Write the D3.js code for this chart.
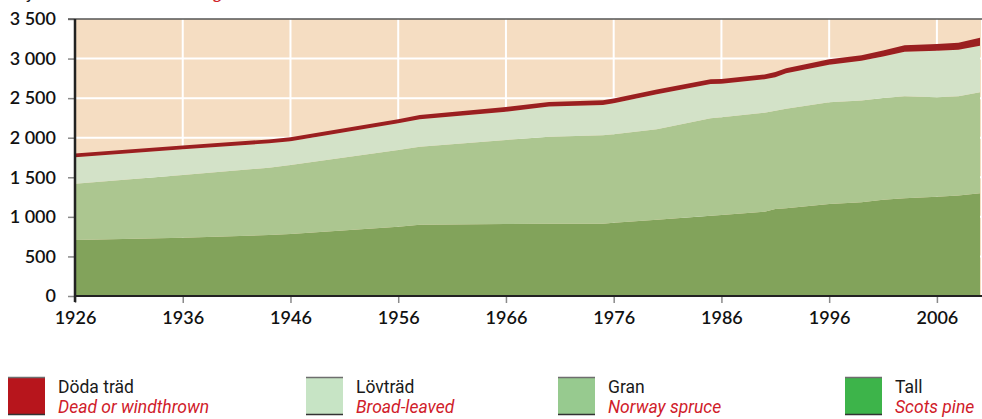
<!DOCTYPE html>
<html>
<head>
<meta charset="utf-8">
<script src="https://cdn.jsdelivr.net/npm/d3@7"></script>
<style>
  body { margin: 0; background: #fff; }
  svg { display: block; }
  .axis text { font-family: Lato, "Open Sans", sans-serif; font-size: 18px; fill: #111; }
  .legend text { font-family: Roboto, sans-serif; font-size: 17.5px; }
</style>
</head>
<body>
<div id="chart"></div>
<script>
// values in million m3
var years = [1926, 1936, 1944, 1946, 1956, 1958, 1966, 1970, 1975, 1976, 1980, 1985, 1986, 1990, 1991, 1992, 1996, 1999, 2001, 2003, 2006, 2008, 2010];
var tall  = [708, 737, 770, 783, 876, 901, 910, 912, 912, 925, 965, 1015, 1023, 1065, 1100, 1108, 1162, 1185, 1217, 1234, 1255, 1270, 1298];
var gran  = [711, 792, 850, 872, 969, 986, 1061, 1101, 1118, 1120, 1141, 1230, 1235, 1252, 1240, 1257, 1286, 1284, 1285, 1289, 1256, 1253, 1275];
var lov   = [333, 324, 309, 300, 337, 346, 358, 380, 383, 390, 442, 434, 425, 421, 425, 448, 475, 504, 523, 562, 589, 590, 590];
var dead  = [48, 48, 50, 50, 52, 55, 58, 58, 60, 60, 60, 60, 60, 62, 65, 65, 68, 70, 78, 82, 85, 88, 100];

var yTicks = [0, 500, 1000, 1500, 2000, 2500, 3000, 3500];
var xTicks = [1926, 1936, 1946, 1956, 1966, 1976, 1986, 1996, 2006];

var series = [
  {key: 'tall', sv: 'Tall', en: 'Scots pine', area: '#82a35b', swatch: '#3db44a'},
  {key: 'gran', sv: 'Gran', en: 'Norway spruce', area: '#acc690', swatch: '#97ca8f'},
  {key: 'lov',  sv: 'Lövträd', en: 'Broad-leaved', area: '#d3e2c8', swatch: '#c7e4c5'},
  {key: 'dead', sv: 'Döda träd', en: 'Dead or windthrown', area: '#9a1f20', swatch: '#b7151c'}
];

var table = years.map(function(y, i) {
  return {year: y, tall: tall[i], gran: gran[i], lov: lov[i], dead: dead[i]};
});

var svg = d3.select('#chart').append('svg')
  .attr('width', 982)
  .attr('height', 419);

var plot = {l: 75, r: 981, t: 19, b: 296};

var x = d3.scaleLinear().domain([1926, 2010]).range([plot.l, 980]);
var y = d3.scaleLinear().domain([0, 3500]).range([plot.b, plot.t]);

var locale = d3.formatLocale({decimal: ',', thousands: ' ', grouping: [3]});
var fmt = locale.format(',');

// heading above the crop, only descenders reach the picture
svg.append('text').attr('x', 2).attr('y', -1)
  .style('font-family', 'Lato, sans-serif').style('font-size', '18px').style('fill', '#1a1a1a')
  .text('Miljoner m³sk');
svg.append('text').attr('x', 160).attr('y', -1)
  .style('font-family', 'Lato, sans-serif').style('font-size', '18px').style('font-style', 'italic').style('fill', '#d0202a')
  .text('Growing stock');

// background and grid
svg.append('rect')
  .attr('x', plot.l).attr('y', plot.t)
  .attr('width', plot.r - plot.l).attr('height', plot.b - plot.t)
  .attr('fill', '#f5ddc2');

svg.append('g').selectAll('line.h')
  .data(yTicks.slice(1, -1))
  .enter().append('line')
  .attr('x1', plot.l).attr('x2', plot.r)
  .attr('y1', function(d) { return y(d); }).attr('y2', function(d) { return y(d); })
  .attr('stroke', '#fff').attr('stroke-width', 2);

svg.append('g').selectAll('line.v')
  .data(xTicks.slice(1))
  .enter().append('line')
  .attr('x1', function(d) { return x(d); }).attr('x2', function(d) { return x(d); })
  .attr('y1', plot.t).attr('y2', plot.b)
  .attr('stroke', '#fff').attr('stroke-width', 2);

// stacked areas
var stack = d3.stack().keys(series.map(function(s) { return s.key; }));
var layers = stack(table);

var area = d3.area()
  .x(function(d) { return x(d.data.year); })
  .y0(function(d) { return y(d[0]); })
  .y1(function(d) { return y(d[1]); });

svg.append('g').selectAll('path')
  .data(layers)
  .enter().append('path')
  .attr('d', area)
  .attr('fill', function(d, i) { return series[i].area; });

// axes
var yAxis = svg.append('g').attr('class', 'axis')
  .attr('transform', 'translate(' + plot.l + ',0)')
  .call(d3.axisLeft(y).tickValues(yTicks).tickSize(7).tickPadding(12).tickFormat(fmt));
yAxis.select('.domain').remove();
yAxis.selectAll('.tick line').attr('stroke', '#8a8a8a').attr('stroke-width', 1.5);
yAxis.selectAll('.tick text').style('font-weight', 600);

var xAxis = svg.append('g').attr('class', 'axis')
  .attr('transform', 'translate(0,' + plot.b + ')')
  .call(d3.axisBottom(x).tickValues(xTicks).tickSize(7).tickPadding(8).tickFormat(d3.format('d')));
xAxis.select('.domain').remove();
xAxis.selectAll('.tick line').attr('stroke', '#8a8a8a').attr('stroke-width', 1.5);
xAxis.selectAll('.tick text').style('font-weight', 600);

svg.append('line')
  .attr('x1', plot.l - 7).attr('x2', plot.r + 1)
  .attr('y1', plot.t).attr('y2', plot.t)
  .attr('stroke', '#555').attr('stroke-width', 1.5);
svg.append('line')
  .attr('x1', plot.l).attr('x2', plot.l)
  .attr('y1', plot.t).attr('y2', plot.b + 6)
  .attr('stroke', '#222').attr('stroke-width', 2.5);
svg.append('line')
  .attr('x1', plot.l).attr('x2', plot.r + 1)
  .attr('y1', plot.b).attr('y2', plot.b)
  .attr('stroke', '#222').attr('stroke-width', 2);

// legend
var legendX = [8, 306, 558, 845];
var legendOrder = ['dead', 'lov', 'gran', 'tall'];

var legend = svg.append('g').attr('class', 'legend')
  .selectAll('g')
  .data(legendOrder.map(function(k) { return series.find(function(s) { return s.key === k; }); }))
  .enter().append('g')
  .attr('transform', function(d, i) { return 'translate(' + legendX[i] + ',377)'; });

legend.append('rect')
  .attr('width', 37).attr('height', 38)
  .attr('fill', function(d) { return d.swatch; });
legend.append('line')
  .attr('x1', 0).attr('x2', 37).attr('y1', 0.5).attr('y2', 0.5)
  .attr('stroke', '#6e6e6e').attr('stroke-width', 1.5);
legend.append('line')
  .attr('x1', 0).attr('x2', 37).attr('y1', 37.5).attr('y2', 37.5)
  .attr('stroke', '#333').attr('stroke-width', 1.5);

legend.append('text')
  .attr('x', 50).attr('y', 16)
  .style('fill', '#1a1a1a')
  .text(function(d) { return d.sv; });
legend.append('text')
  .attr('x', 50).attr('y', 36)
  .style('fill', '#d0202a').style('font-style', 'italic')
  .text(function(d) { return d.en; });
</script>
</body>
</html>
